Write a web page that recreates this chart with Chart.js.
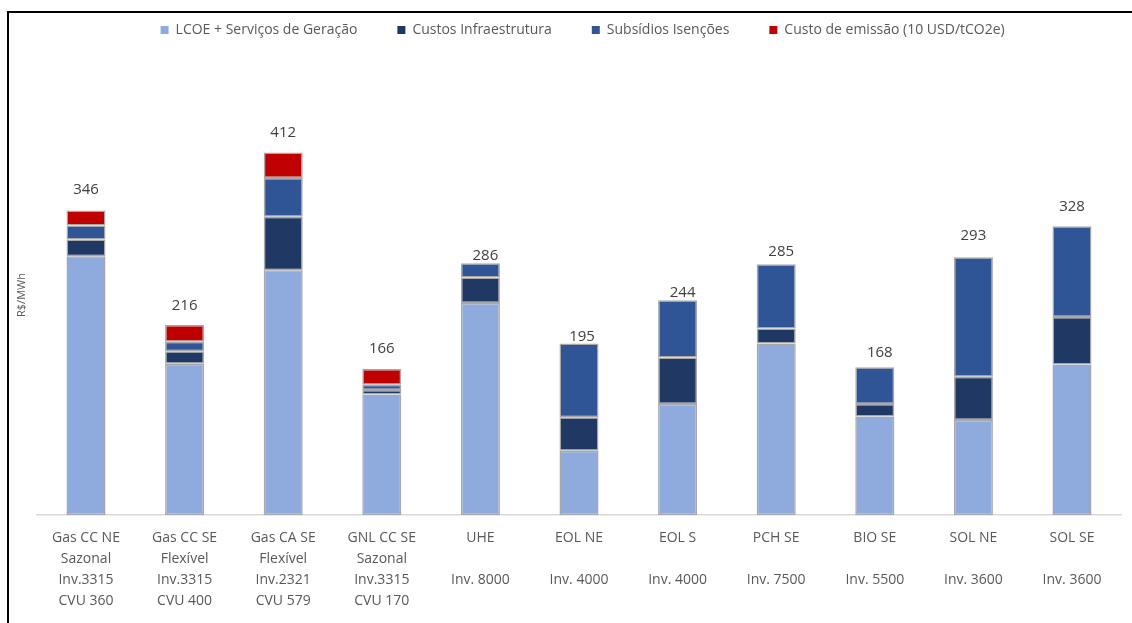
<!DOCTYPE html>
<html>
<head>
<meta charset="utf-8">
<title>Custos por fonte</title>
<script src="https://cdn.jsdelivr.net/npm/chart.js@4.4.1/dist/chart.umd.min.js"></script>
<style>
  html, body { margin: 0; padding: 0; background: #fff; }
  #wrap { position: relative; width: 1132px; height: 623px; overflow: hidden; }
  #frame {
    position: absolute; left: 7px; top: 11px; width: 1200px; height: 700px;
    border-left: 2px solid #000; border-top: 2px solid #000;
  }
  canvas { position: absolute; left: 0; top: 0; }
</style>
</head>
<body>
<div id="wrap">
  <div id="frame"></div>
  <canvas id="chart" width="1132" height="623"></canvas>
</div>
<script>
const categories = [
  ["Gas CC NE", "Sazonal", "Inv.3315", "CVU 360"],
  ["Gas CC SE", "Flexível", "Inv.3315", "CVU 400"],
  ["Gas CA SE", "Flexível", "Inv.2321", "CVU 579"],
  ["GNL CC SE", "Sazonal", "Inv.3315", "CVU 170"],
  ["UHE", "", "Inv. 8000"],
  ["EOL NE", "", "Inv. 4000"],
  ["EOL S", "", "Inv. 4000"],
  ["PCH SE", "", "Inv. 7500"],
  ["BIO SE", "", "Inv. 5500"],
  ["SOL NE", "", "Inv. 3600"],
  ["SOL SE", "", "Inv. 3600"]
];

// R$/MWh
const lcoe      = [294, 172, 278, 137, 241, 73, 126, 195, 112, 108, 171];
const infra     = [19, 14, 61, 5, 29, 38, 53, 17, 14, 49, 54];
const subsidios = [16, 11, 44, 6, 16, 84, 65, 73, 42, 136, 103];
const emissao   = [17, 19, 29, 18, 0, 0, 0, 0, 0, 0, 0];

// how far each total sits above its bar, and a small sideways nudge
const labelLift  = [21, 19, 20, 20, 8, 7, 8, 12, 14, 21, 20];
const labelShift = [0, 0, 0, 0, 5, 3, 5, 5, 5, 0, 0];

const totals = lcoe.map((v, i) => v + infra[i] + subsidios[i] + emissao[i]);

const FONT = "'Open Sans', 'Noto Sans', sans-serif";
const edge = "#a8a8a8";

function series(label, data, color) {
  return {
    label: label,
    data: data,
    backgroundColor: color,
    borderColor: edge,
    borderWidth: (c) => (c.raw ? 1.5 : 0),
    borderSkipped: false,
    categoryPercentage: 0.8,
    barPercentage: 0.495
  };
}

// totals written above each stack
const totalLabels = {
  id: "totalLabels",
  afterDatasetsDraw(chart) {
    const { ctx, scales } = chart;
    ctx.save();
    ctx.font = "15px " + FONT;
    ctx.fillStyle = "#404040";
    ctx.textAlign = "center";
    ctx.textBaseline = "middle";
    totals.forEach((t, i) => {
      const x = scales.x.getPixelForValue(i) + labelShift[i];
      const y = scales.y.getPixelForValue(t) - labelLift[i];
      ctx.fillText(String(t), x, y);
    });
    ctx.restore();
  }
};

// keep the plot area where the legend leaves it a fixed band on top
const legendBand = {
  id: "legendBand",
  beforeInit(chart) {
    const fit = chart.legend.fit;
    chart.legend.fit = function () {
      fit.call(this);
      this.height = 92;
    };
  },
  afterLayout(chart) {
    chart.legend.left += 22;
    chart.legend.right += 22;
  }
};

new Chart(document.getElementById("chart"), {
  type: "bar",
  data: {
    labels: categories,
    datasets: [
      series("LCOE + Serviços de Geração", lcoe, "#8faadc"),
      series("Custos Infraestrutura", infra, "#203864"),
      series("Subsídios Isenções", subsidios, "#2f5597"),
      series("Custo de emissão (10 USD/tCO2e)", emissao, "#c00000")
    ]
  },
  options: {
    responsive: false,
    animation: false,
    layout: { padding: { top: -17, right: 10.7, bottom: 0, left: 0 } },
    scales: {
      x: {
        stacked: true,
        grid: { display: false, drawTicks: false },
        border: { display: true, color: "#d9d9d9", width: 1.5 },
        ticks: {
          color: "#595959",
          padding: 12,
          maxRotation: 0,
          autoSkip: false,
          font: { family: FONT, size: 14, lineHeight: 1.52 }
        },
        afterFit(scale) { scale.height = 108; }
      },
      y: {
        stacked: true,
        min: 0,
        max: 500,
        grid: { display: false, drawTicks: false },
        border: { display: false },
        ticks: { display: false },
        title: {
          display: true,
          text: "R$/MWh",
          color: "#595959",
          font: { family: FONT, size: 11 },
          padding: { top: 15, bottom: 0 }
        },
        afterFit(scale) { scale.width = 36.7; }
      }
    },
    plugins: {
      legend: {
        position: "top",
        labels: {
          color: "#595959",
          boxWidth: 8,
          boxHeight: 8,
          padding: 40,
          font: { family: FONT, size: 14 },
          generateLabels(chart) {
            const items = Chart.defaults.plugins.legend.labels.generateLabels(chart);
            items.forEach((it) => {
              it.strokeStyle = it.fillStyle;
              it.lineWidth = 0;
            });
            return items;
          }
        }
      },
      tooltip: { enabled: false }
    }
  },
  plugins: [totalLabels, legendBand]
});
</script>
</body>
</html>
